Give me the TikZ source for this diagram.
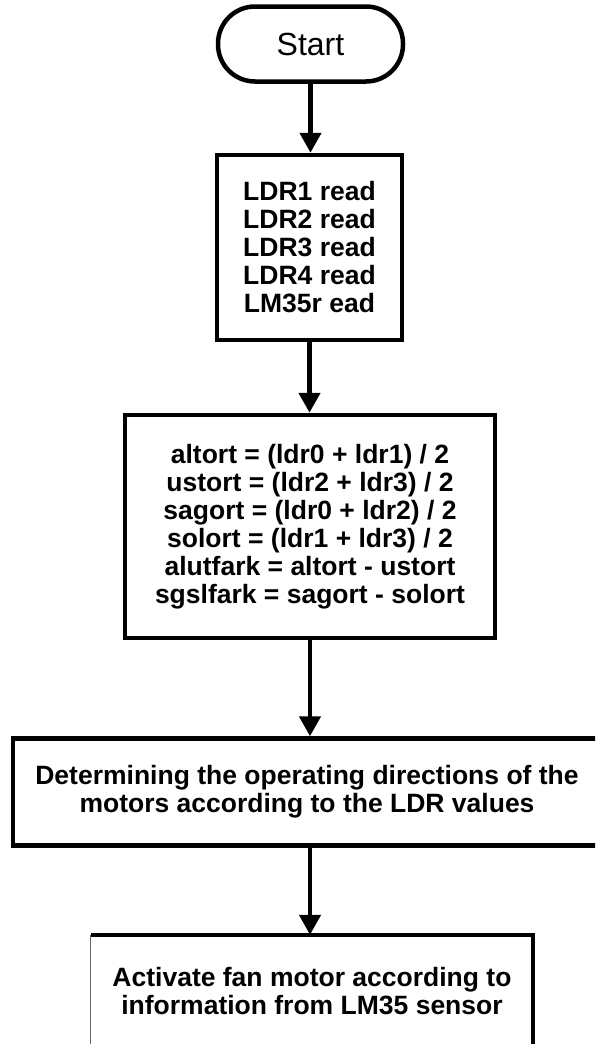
\documentclass[tikz,border=0pt]{standalone}
\usepackage{fontspec}
\setmainfont{Liberation Sans}
\usetikzlibrary{arrows.meta}
\begin{document}
\begin{tikzpicture}[x=1pt,y=-1pt,
  boxtext/.style={font=\bfseries\fontsize{26.5}{28}\selectfont, align=center, inner sep=0pt},
  procbox/.style={boxtext, draw, line width=4.5pt},
  flow/.style={line width=4.5pt, -{Triangle[length=20pt,width=21pt]}}]
\useasboundingbox (0,0) rectangle (595,1044);
\clip (0,0) rectangle (595,1044);

% terminal
\node[draw, line width=4.5pt, rounded corners=37pt, minimum width=185pt, minimum height=75pt,
      font=\fontsize{32}{36}\selectfont, inner sep=0pt] (start) at (310.5,44) {Start};

% sensor readings
\node[procbox, minimum width=185pt, minimum height=185pt] (read) at (309.5,247.5)
  {LDR1 read\\LDR2 read\\LDR3 read\\LDR4 read\\LM35r ead};

% averages and differences
\node[procbox, minimum width=370pt, minimum height=223pt] (calc) at (310,526.5)
  {altort = (ldr0 + ldr1) / 2\\ustort = (ldr2 + ldr3) / 2\\sagort = (ldr0 + ldr2) / 2\\solort = (ldr1 + ldr3) / 2\\alutfark = altort - ustort\\sgslfark = sagort - solort};

% motor directions
\node[procbox, minimum width=588pt, minimum height=107pt] (dir) at (307,792)
  {Determining the operating directions of the\\motors according to the LDR values};

% fan control (runs past the lower edge)
\node[boxtext, minimum width=442pt, minimum height=112pt] (fan) at (312,991)
  {Activate fan motor according to\\information from LM35 sensor};
\draw[line width=4.5pt] (fan.south east) -- (fan.north east) -- (fan.north west);
\draw[line width=1pt, black!60] (fan.north west) -- (fan.south west);

% connectors
\draw[flow] (start.south) -- (start.south |- read.north);
\draw[flow] (read.south) -- (read.south |- calc.north);
\draw[flow] (calc.south) -- (calc.south |- dir.north);
\draw[flow] (calc.south |- dir.south) -- (calc.south |- fan.north);
\end{tikzpicture}
\end{document}
